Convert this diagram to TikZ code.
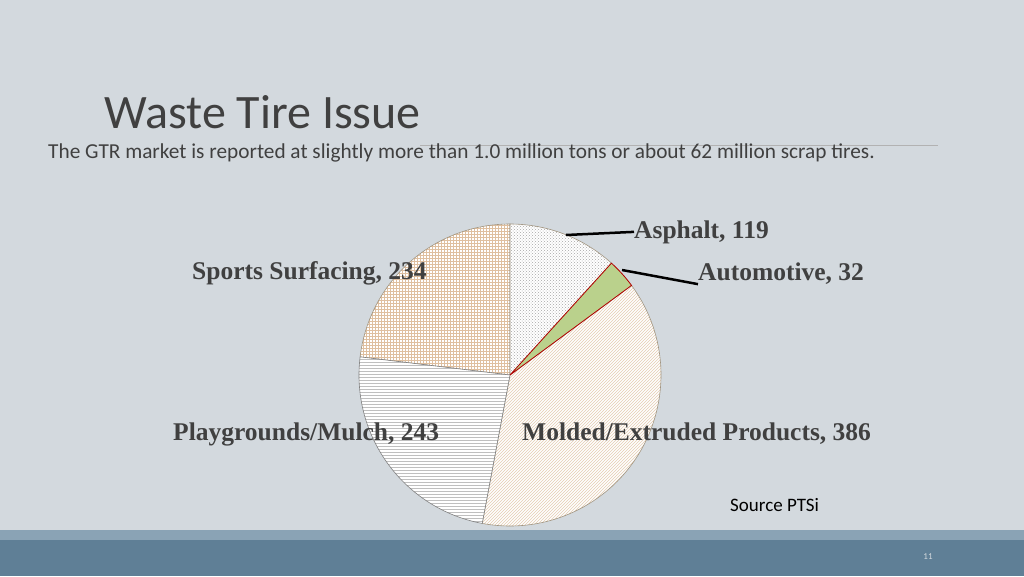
\documentclass[tikz,border=0pt]{standalone}
\usepackage{fontspec}
\setmainfont{Liberation Serif}
\newfontfamily\calfont{Carlito}
\usetikzlibrary{patterns}
\definecolor{bg}{HTML}{D3D9DE}
\definecolor{lab}{HTML}{404040}
\definecolor{bar}{HTML}{5F7F96}
\definecolor{bar2}{HTML}{8AA3B5}
\definecolor{edgec}{HTML}{A09480}
\begin{document}
\begin{tikzpicture}[x=1pt,y=-1pt,
  lbl/.style={font=\bfseries\fontsize{25.5}{28}\selectfont,text=lab,inner sep=0},
  slice/.style={draw=edgec,line width=0.6pt},
  lead/.style={line width=2.5pt,black}]
\useasboundingbox (0,0) rectangle (1024,576);
\fill[bg] (0,0) rectangle (1024,576);
\fill[bar2] (0,530) rectangle (1024,540);
\fill[bar] (0,540) rectangle (1024,576);
\draw[gray!60] (420,145) -- (938,145);
\node[anchor=base west,inner sep=0,font=\calfont\fontsize{48}{52}\selectfont,text=lab] (title) at (104,128) {Waste Tire Issue};
\node[anchor=base west,inner sep=0,font=\calfont\fontsize{21.3}{24}\selectfont,text=lab] (sub) at (48,158) {The GTR market is reported at slightly more than 1.0 million tons or about 62 million scrap tires.};
\coordinate (c) at (510,375);
\def\R{151}
% Sports
\fill[white] (c) -- ++(-173.1:\R) arc[start angle=-173.1,end angle=-90,radius=\R] -- cycle;
\fill[pattern=grid,pattern color=brown!50] (c) -- ++(-173.1:\R) arc[start angle=-173.1,end angle=-90,radius=\R] -- cycle;
\draw[slice] (c) -- ++(-173.1:\R) arc[start angle=-173.1,end angle=-90,radius=\R] -- cycle;
% Asphalt
\fill[white] (c) -- ++(-90:\R) arc[start angle=-90,end angle=-47.8,radius=\R] -- cycle;
\fill[pattern=crosshatch dots,pattern color=gray!70] (c) -- ++(-90:\R) arc[start angle=-90,end angle=-47.8,radius=\R] -- cycle;
\draw[slice] (c) -- ++(-90:\R) arc[start angle=-90,end angle=-47.8,radius=\R] -- cycle;
% Molded
\fill[white] (c) -- ++(-36.4:\R) arc[start angle=-36.4,end angle=100.6,radius=\R] -- cycle;
\fill[pattern=north east lines,pattern color=brown!40] (c) -- ++(-36.4:\R) arc[start angle=-36.4,end angle=100.6,radius=\R] -- cycle;
\draw[slice] (c) -- ++(-36.4:\R) arc[start angle=-36.4,end angle=100.6,radius=\R] -- cycle;
% Playgrounds
\fill[white] (c) -- ++(100.6:\R) arc[start angle=100.6,end angle=186.9,radius=\R] -- cycle;
\fill[pattern=horizontal lines,pattern color=gray!50] (c) -- ++(100.6:\R) arc[start angle=100.6,end angle=186.9,radius=\R] -- cycle;
\draw[draw=gray,line width=0.6pt] (c) -- ++(100.6:\R) arc[start angle=100.6,end angle=186.9,radius=\R] -- cycle;
% Automotive
\filldraw[fill=green!20!olive!45!white,draw=red!70!black,line width=0.8pt] (c) -- ++(-47.8:\R) arc[start angle=-47.8,end angle=-36.4,radius=\R] -- cycle;
\node[lbl,anchor=base west] (asp) at (634,238) {Asphalt, 119};
\node[lbl,anchor=base west] (aut) at (698,280) {Automotive, 32};
\node[lbl,anchor=base west] (spo) at (192,279) {Sports Surfacing, 234};
\node[lbl,anchor=base west] (pla) at (173,440) {Playgrounds/Mulch, 243};
\node[lbl,anchor=base west] (mol) at (522,440) {Molded/Extruded Products, 386};
\coordinate (a1) at (566,235);
\coordinate (a2) at (622,270);
\draw[lead] (a1) -- (asp.west);
\draw[lead] (a2) -- (aut.south west);
\node[anchor=base west,inner sep=0,font=\calfont\fontsize{19}{21}\selectfont] (src) at (730,511) {Source PTSi};
\node[inner sep=0,font=\calfont\fontsize{9}{10}\selectfont,text=bg] (pg) at (928,557) {11};
\end{tikzpicture}
\end{document}
